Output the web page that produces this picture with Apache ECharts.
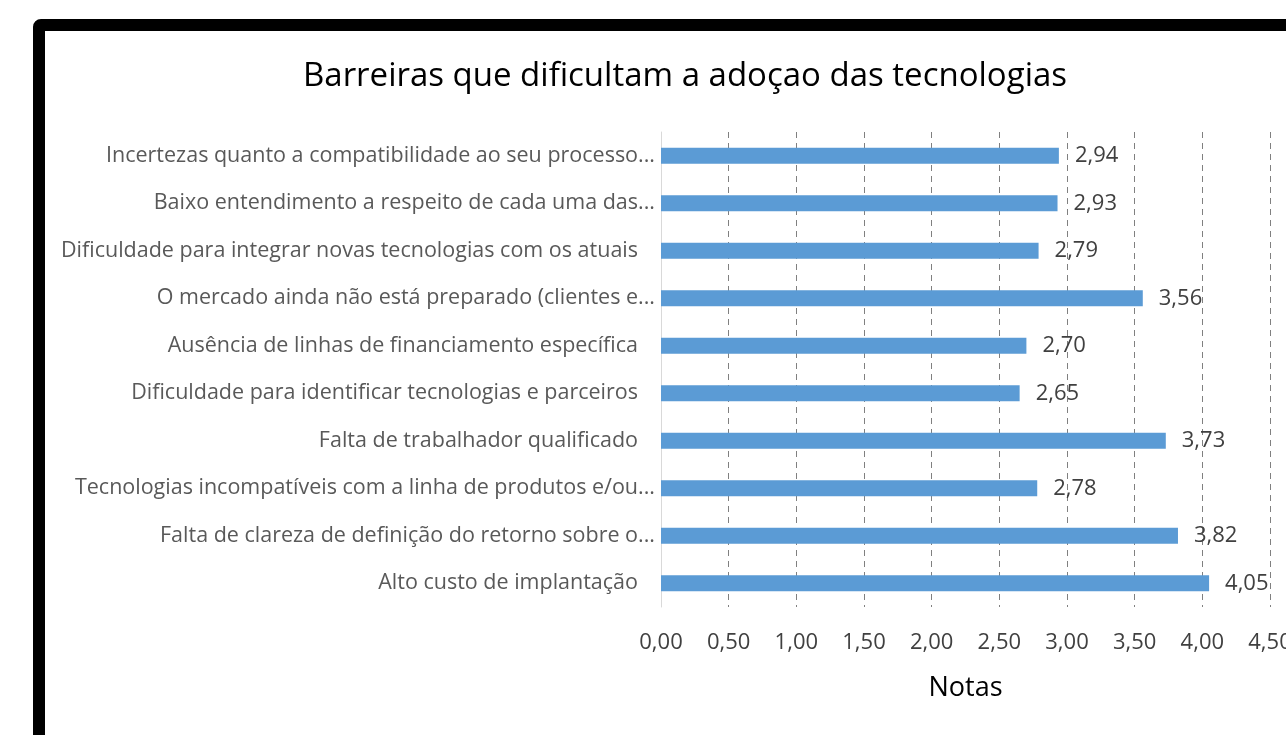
<!DOCTYPE html>
<html>
<head>
<meta charset="utf-8">
<script src="https://cdn.jsdelivr.net/npm/echarts@6/dist/echarts.min.js"></script>
<style>
html,body{margin:0;padding:0;background:#fff;}
#chart{width:1286px;height:735px;}
</style>
</head>
<body>
<div id="chart"></div>
<script>
const categories = [
  "Incertezas quanto a compatibilidade ao seu processo...",
  "Baixo entendimento a respeito de cada uma das...",
  "Dificuldade para integrar novas tecnologias com os atuais ",
  "O mercado ainda não está preparado (clientes e...",
  "Ausência de linhas de financiamento específica ",
  "Dificuldade para identificar tecnologias e parceiros ",
  "Falta de trabalhador qualificado ",
  "Tecnologias incompatíveis com a linha de produtos e/ou...",
  "Falta de clareza de definição do retorno sobre o...",
  "Alto custo de implantação "
];
const notas = [2.94, 2.93, 2.79, 3.56, 2.70, 2.65, 3.73, 2.78, 3.82, 4.05];
const titleText = "Barreiras que dificultam a adoçao das tecnologias";
const axisName = "Notas";

const fmt = v => Number(v).toFixed(2).replace('.', ',');
const font = "Open Sans";

const chart = echarts.init(document.getElementById('chart'));
chart.setOption({
  animation: false,
  title: {
    text: titleText,
    left: 680, top: 55, textAlign: 'center',
    textStyle: {fontFamily: font, fontSize: 33, fontWeight: 'normal', color: '#000'}
  },
  grid: {left: 661, right: 16, top: 132, bottom: 128, containLabel: false, outerBoundsMode: 'none'},
  xAxis: {
    type: 'value', min: 0, max: 4.5, interval: 0.5,
    name: axisName, nameLocation: 'middle', nameGap: 68,
    nameTextStyle: {fontFamily: font, fontSize: 27, color: '#000'},
    axisLabel: {formatter: fmt, fontFamily: font, fontSize: 22, color: '#404040', margin: 25},
    axisLine: {show: false}, axisTick: {show: false},
    splitLine: {show: true, lineStyle: {type: [6, 5], color: '#808080', width: 1}}
  },
  yAxis: {
    type: 'category', data: categories, inverse: true,
    axisLine: {show: true, lineStyle: {color: '#d9d9d9', width: 1}},
    axisTick: {show: false},
    axisLabel: {
      fontFamily: font, fontSize: 21.5, color: '#595959', margin: 6,
      formatter: s => s.endsWith(' ') ? '{p|' + s.trim() + '}' : '{n|' + s + '}',
      rich: {
        p: {fontFamily: font, fontSize: 21.5, color: '#595959', padding: [0, 17, 0, 0]},
        n: {fontFamily: font, fontSize: 21.5, color: '#595959'}
      }
    }
  },
  series: [{
    type: 'bar', data: notas, barWidth: 16,
    itemStyle: {color: '#5b9bd5'},
    label: {show: true, position: 'right', distance: 16, formatter: p => fmt(p.value),
      fontFamily: font, fontSize: 22, color: '#404040'}
  }],
  graphic: [{
    type: 'rect', silent: true, z: 100,
    shape: {x: 39, y: 25, width: 1400, height: 900, r: 2},
    style: {fill: 'none', stroke: '#000', lineWidth: 12}
  }]
});
</script>
</body>
</html>
